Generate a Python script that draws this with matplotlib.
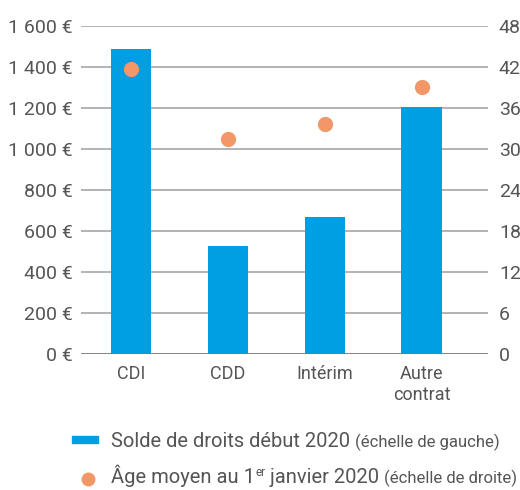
import matplotlib

matplotlib.use("Agg")
import matplotlib.pyplot as plt
from matplotlib.lines import Line2D
from matplotlib.patches import Rectangle

categories = ["CDI", "CDD", "Intérim", "Autre\ncontrat"]
solde = [1490, 527, 668, 1205]
age = [41.7, 31.4, 33.7, 39.1]
left_ticks = [0, 200, 400, 600, 800, 1000, 1200, 1400, 1600]
right_ticks = [0, 6, 12, 18, 24, 30, 36, 42, 48]

BLUE = "#009fe3"
ORANGE = "#f29767"
TXT = "#555555"
GRID = "#a6a6a6"

plt.rcParams["font.family"] = ["Roboto", "DejaVu Sans"]

fig = plt.figure(figsize=(5.2, 4.9), dpi=100)
ax = fig.add_axes([0.156, 0.2776, 0.782, 0.6694])
ax2 = ax.twinx()

xs = list(range(len(categories)))
ax.bar(xs, solde, width=0.42, color=BLUE, zorder=3)
ax2.scatter(xs, age, s=120, color=ORANGE, zorder=4, linewidths=0)

ax.set_xlim(-0.515, 3.68)
ax.set_ylim(0, 1600)
ax2.set_ylim(0, 48)
ax.set_yticks(left_ticks)
ax.set_yticklabels([f"{v:,} €".replace(",", " ") for v in left_ticks])
ax2.set_yticks(right_ticks)
ax.set_xticks(xs)
ax.set_xticklabels(categories)

for a in (ax, ax2):
    for s in a.spines.values():
        s.set_visible(False)
    a.tick_params(length=0, colors=TXT, labelsize=14)
ax.tick_params(axis="y", pad=6)
ax2.tick_params(axis="y", pad=8)
ax.tick_params(axis="x", pad=8, labelsize=13)
ax.yaxis.grid(True, color=GRID, lw=1.2, zorder=0)
ax.set_axisbelow(True)
ax.axhline(0, color="#7f7f7f", lw=1.2, zorder=2)

# legend, built by hand so the scale note can be smaller
fig.add_artist(Rectangle((72 / 520, 1 - 443 / 490), 26 / 520, 7 / 490,
                         transform=fig.transFigure, color=BLUE))
fig.add_artist(Line2D([88 / 520], [1 - 479 / 490], transform=fig.transFigure,
                      marker="o", ms=10, color=ORANGE, mec="none"))

renderer = fig.canvas.get_renderer()


def run_text(x, y, pieces):
    for txt, size, dy in pieces:
        t = fig.text(x, y + dy, txt, fontsize=size, color=TXT, va="baseline")
        bb = t.get_window_extent(renderer)
        x = bb.x1 / fig.bbox.width


run_text(111 / 520, 1 - 447 / 490, [("Solde de droits début 2020 ", 14.5, 0),
                                     ("(échelle de gauche)", 12, 0)])
run_text(111 / 520, 1 - 483 / 490, [("Âge moyen au 1", 14.5, 0),
                                     ("er", 8.5, 7 / 490),
                                     (" janvier 2020 ", 14.5, 0),
                                     ("(échelle de droite)", 12, 0)])

fig.savefig("out.png", dpi=100)
